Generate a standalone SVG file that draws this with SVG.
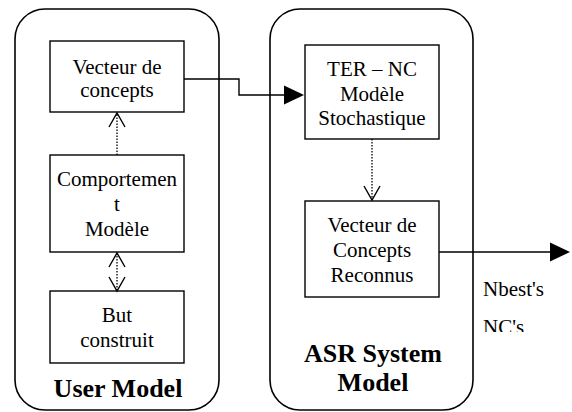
<svg xmlns="http://www.w3.org/2000/svg" width="572" height="412" viewBox="0 0 572 412">
<defs>
<style>
.frame{fill:none;stroke:#000;stroke-width:1.6}
.box{fill:#fff;stroke:#000;stroke-width:1.4}
.t{font-family:"Liberation Serif","Times New Roman",serif;font-size:21px;fill:#000;text-anchor:middle}
.b{font-family:"Liberation Serif","Times New Roman",serif;font-size:26px;font-weight:bold;fill:#000;text-anchor:middle}
.l{font-family:"Liberation Serif","Times New Roman",serif;font-size:21px;fill:#000}
.solid{fill:none;stroke:#000;stroke-width:1.4}
.dot{fill:none;stroke:#000;stroke-width:1.3;stroke-dasharray:1.5 1.5}
.open{fill:none;stroke:#000;stroke-width:1.4}
</style>
<clipPath id="clipNC"><rect x="470" y="300" width="100" height="32"/></clipPath>
</defs>
<g id="user-model">
<rect class="frame" x="15" y="9" width="204" height="401" rx="30" ry="30"/>
<text class="b" x="118" y="397">User Model</text>
</g>
<g id="asr-model">
<rect class="frame" x="270" y="9" width="203" height="401" rx="30" ry="30"/>
<text class="b" x="373" y="362">ASR System</text>
<text class="b" x="373" y="391">Model</text>
</g>
<g id="vecteur-concepts">
<rect class="box" x="50" y="41" width="134" height="71"/>
<text class="t" x="117" y="74">Vecteur de</text>
<text class="t" x="117" y="97">concepts</text>
</g>
<g id="comportement">
<rect class="box" x="50" y="155" width="134" height="97"/>
<text class="t" x="117" y="186">Comportemen</text>
<text class="t" x="117" y="211">t</text>
<text class="t" x="117" y="236">Modèle</text>
</g>
<g id="but-construit">
<rect class="box" x="50" y="291" width="134" height="72"/>
<text class="t" x="117" y="322">But</text>
<text class="t" x="117" y="347">construit</text>
</g>
<g id="ter-nc">
<rect class="box" x="305" y="45" width="134" height="94"/>
<text class="t" x="372" y="76">TER – NC</text>
<text class="t" x="372" y="101">Modèle</text>
<text class="t" x="372" y="125">Stochastique</text>
</g>
<g id="vecteur-reconnus">
<rect class="box" x="305" y="201" width="134" height="96"/>
<text class="t" x="372" y="232">Vecteur de</text>
<text class="t" x="372" y="257">Concepts</text>
<text class="t" x="372" y="282">Reconnus</text>
</g>
<g id="connectors">
<path class="dot" d="M117 155 V114"/>
<path class="open" d="M109 127 L117 113 L125 127"/>
<path class="dot" d="M117 253 V290"/>
<path class="open" d="M109 267 L117 253 L125 267"/>
<path class="open" d="M109 277 L117 291 L125 277"/>
<path class="dot" d="M372 139 V200"/>
<path class="open" d="M364 186 L372 200 L380 186"/>
<path class="solid" d="M184 79 H239 V95 H286"/>
<polygon points="284,85.5 304,95 284,104.5" fill="#000"/>
<path class="solid" d="M439 252 H552"/>
<polygon points="550,242.5 570,252 550,261.5" fill="#000"/>
</g>
<g id="labels">
<text class="l" x="483" y="296">Nbest's</text>
<text class="l" x="483" y="334" clip-path="url(#clipNC)">NC's</text>
</g>
</svg>
